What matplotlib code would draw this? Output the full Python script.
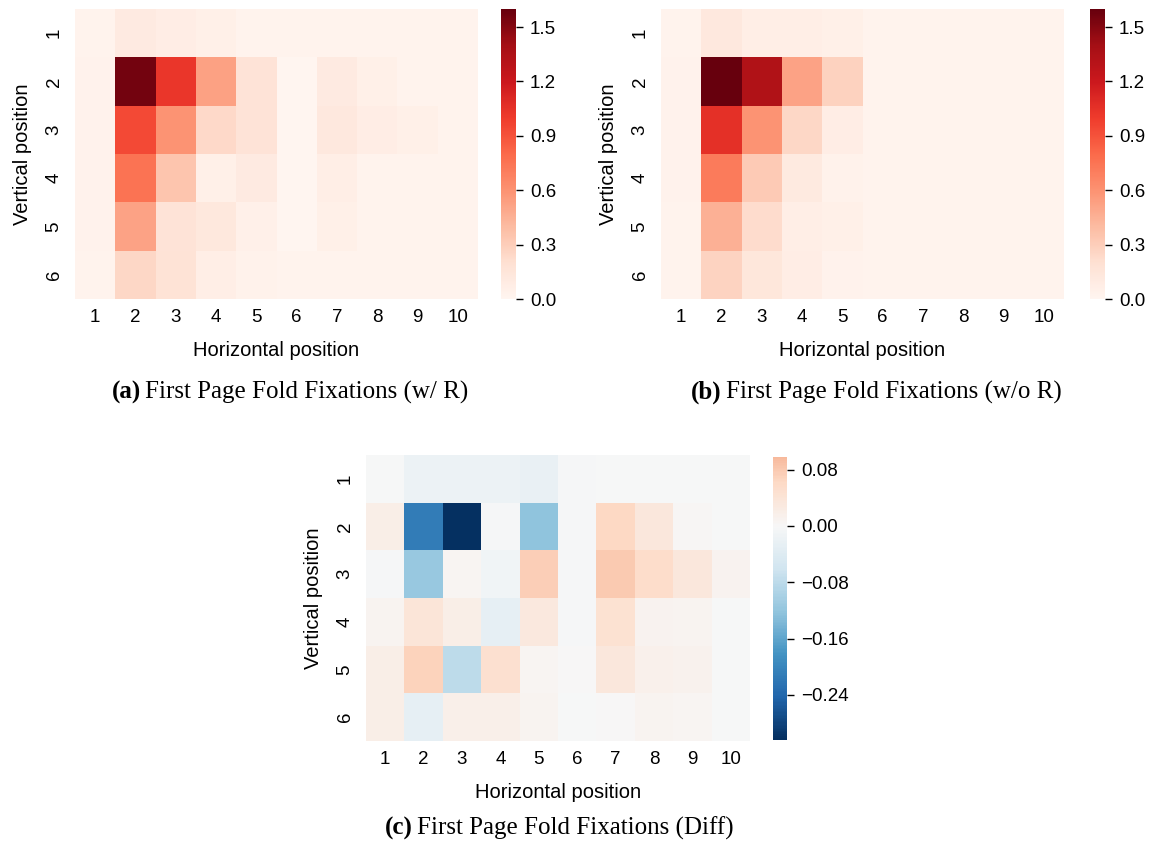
import matplotlib
matplotlib.use("Agg")
import matplotlib.pyplot as plt
import numpy as np
from matplotlib.colors import ListedColormap, Normalize
from matplotlib.ticker import FuncFormatter

plt.rcParams["font.family"] = ["Liberation Sans", "DejaVu Sans"]

col_labels = [str(i) for i in range(1, 11)]
row_labels = [str(i) for i in range(1, 7)]

# fixation density, with reading aid
with_r = [
    [0.02, 0.10, 0.076, 0.05, 0.02, 0.02, 0.02, 0.02, 0.02, 0.02],
    [0.03, 1.56, 1.03, 0.53, 0.17, 0.005, 0.10, 0.05, 0.02, 0.02],
    [0.03, 0.94, 0.60, 0.24, 0.17, 0.005, 0.12, 0.08, 0.05, 0.02],
    [0.03, 0.755, 0.35, 0.05, 0.10, 0.005, 0.07, 0.02, 0.02, 0.02],
    [0.03, 0.52, 0.17, 0.13, 0.045, 0.005, 0.05, 0.02, 0.02, 0.02],
    [0.02, 0.25, 0.18, 0.075, 0.035, 0.02, 0.02, 0.02, 0.02, 0.02],
]

# fixation density, without reading aid
without_r = [
    [0.02, 0.12, 0.075, 0.07, 0.05, 0.02, 0.02, 0.02, 0.02, 0.02],
    [0.03, 1.60, 1.34, 0.52, 0.275, 0.02, 0.02, 0.02, 0.02, 0.02],
    [0.03, 1.06, 0.60, 0.25, 0.08, 0.02, 0.02, 0.02, 0.02, 0.02],
    [0.025, 0.715, 0.32, 0.11, 0.035, 0.02, 0.02, 0.02, 0.02, 0.02],
    [0.02, 0.45, 0.22, 0.075, 0.05, 0.02, 0.02, 0.02, 0.02, 0.02],
    [0.02, 0.27, 0.14, 0.08, 0.025, 0.02, 0.02, 0.02, 0.02, 0.02],
]

diff = [
    [-0.002, -0.019, -0.019, -0.019, -0.023, -0.004, -0.002, -0.002, -0.002, -0.002],
    [0.019, -0.212, -0.304, -0.004, -0.122, -0.004, 0.063, 0.034, 0.003, -0.002],
    [-0.004, -0.114, 0.005, -0.011, 0.076, -0.004, 0.078, 0.055, 0.035, 0.010],
    [0.008, 0.037, 0.021, -0.028, 0.032, -0.004, 0.045, 0.010, 0.007, -0.002],
    [0.020, 0.069, -0.081, 0.049, 0.005, 0.002, 0.033, 0.016, 0.012, -0.002],
    [0.019, -0.027, 0.017, 0.017, 0.008, -0.002, 0.002, 0.008, 0.004, -0.002],
]

fixation_ticks = [0.0, 0.3, 0.6, 0.9, 1.2, 1.5]
diff_ticks = [-0.24, -0.16, -0.08, 0.0, 0.08]

W, H = 1151, 842
fig = plt.figure(figsize=(W / 100, H / 100), dpi=100)


def px_axes(x0, y0, x1, y1):
    return fig.add_axes([x0 / W, 1 - y1 / H, (x1 - x0) / W, (y1 - y0) / H])


def fmt(decimals):
    return FuncFormatter(lambda v, _: f"{v:.{decimals}f}".replace("-", "\u2212"))


def draw_heatmap(box, cbox, data, cmap, norm, ticks, decimals):
    ax = px_axes(*box)
    cax = px_axes(*cbox)
    values = np.array(data)
    mesh = ax.pcolormesh(values, cmap=cmap, norm=norm)
    ax.set_xlim(0, values.shape[1])
    ax.set_ylim(values.shape[0], 0)
    ax.set_xticks(np.arange(values.shape[1]) + 0.5)
    ax.set_xticklabels(col_labels)
    ax.set_yticks(np.arange(values.shape[0]) + 0.5)
    ax.set_yticklabels(row_labels, rotation=90, va="center")
    ax.tick_params(axis="x", length=0, labelsize=13.5, pad=7)
    ax.tick_params(axis="y", length=0, labelsize=13.5, pad=9)
    for spine in ax.spines.values():
        spine.set_visible(False)
    ax.set_xlabel("Horizontal position", fontsize=14.5, labelpad=11)
    ax.set_ylabel("Vertical position", fontsize=14.5, labelpad=10)

    cb = fig.colorbar(mesh, cax=cax, ticks=ticks, format=fmt(decimals))
    cb.outline.set_visible(False)
    cax.tick_params(length=5, width=1, labelsize=13.5, pad=5)
    return ax


def caption(cx_split, y, tag, text):
    fig.text(cx_split / W, 1 - y / H, tag, ha="right", va="center",
             family="Liberation Serif", fontsize=18, fontweight="bold")
    fig.text((cx_split + 4) / W, 1 - y / H, text, ha="left", va="center",
             family="Liberation Serif", fontsize=18)


reds_norm = Normalize(vmin=0.0, vmax=1.6)
draw_heatmap((75, 9, 478, 299), (501, 9, 516, 299), with_r, "Reds", reds_norm, fixation_ticks, 1)
draw_heatmap((661, 9, 1064, 299), (1090, 9, 1105, 299), without_r, "Reds", reds_norm, fixation_ticks, 1)

# diverging map centred on zero, trimmed to the data range
d_min, d_max = -0.304, 0.098
d_range = max(abs(d_min), abs(d_max))
lo = (d_min + d_range) / (2 * d_range)
hi = (d_max + d_range) / (2 * d_range)
diff_cmap = ListedColormap(plt.get_cmap("RdBu_r")(np.linspace(lo, hi, 256)))
draw_heatmap((366, 455, 750, 741), (773, 457, 787, 740), diff, diff_cmap,
             Normalize(vmin=d_min, vmax=d_max), diff_ticks, 2)

caption(141, 392, "(a)", "First Page Fold Fixations (w/ R)")
caption(722, 392, "(b)", "First Page Fold Fixations (w/o R)")
caption(413, 828, "(c)", "First Page Fold Fixations (Diff)")

fig.savefig("out.png", dpi=100)
